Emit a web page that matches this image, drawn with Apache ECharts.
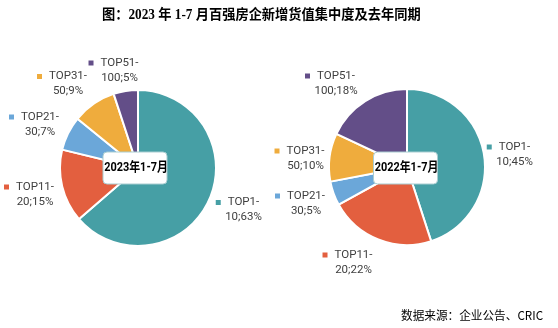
<!DOCTYPE html>
<html>
<head>
<meta charset="utf-8">
<script src="https://cdn.jsdelivr.net/npm/echarts@6/dist/echarts.min.js"></script>
<style>html,body{margin:0;padding:0;background:#fff}#c{width:558px;height:328px}</style>
</head>
<body>
<div id="c"></div>
<script>
var categories = ['TOP1-10', 'TOP11-20', 'TOP21-30', 'TOP31-50', 'TOP51-100'];
var values2023 = [63, 15, 7, 9, 5];
var values2022 = [45, 22, 5, 10, 18];
var periodLabels = ['2023年1-7月', '2022年1-7月'];
var titleText = '图：2023 年 1-7 月百强房企新增货值集中度及去年同期';
var sourceText = '数据来源：企业公告、CRIC';

// layout (not data)
var colors = ['#469fa5', '#e35f3f', '#6ba7d9', '#efac3d', '#634e88'];
var pies = [{cx: 138, cy: 168, r: 78}, {cx: 407, cy: 167, r: 78}];
var boxes = [{cx: 135, cy: 168}, {cx: 405.5, cy: 168}];
// centre of each label's text block, as placed in the reference
var labelAnchors = [
  [[243.5, 210], [35, 194.5], [40, 124.5], [68, 84], [119.5, 70.5]],
  [[514.5, 154.5], [353.5, 262.5], [306, 203.5], [305.5, 158.5], [336, 83.5]]
];

var rich = {t: {fontSize: 11.5, color: '#404040', fontFamily: 'Roboto', lineHeight: 15}, sp: {width: 12}, g: {width: 7}};
colors.forEach(function (c, i) {
  rich['m' + i] = {width: 5, height: 5, backgroundColor: c};
});

function fmt(p) {
  var parts = p.name.split('-');
  return '{m' + p.dataIndex + '|}{g|}{t|' + parts[0] + '-}\n{sp|}{t|' + parts[1] + ';' + p.value + '%}';
}

function build(vals) {
  return categories.map(function (n, i) { return {name: n, value: vals[i]}; });
}

var series = [];
var graphic = [];
[values2023, values2022].forEach(function (vals, k) {
  var p = pies[k];
  series.push({
    type: 'pie', center: [p.cx, p.cy], radius: [0, p.r], startAngle: 90, clockwise: true,
    silent: true, avoidLabelOverlap: false,
    label: {show: true, position: 'outside', formatter: fmt, rich: rich},
    labelLine: {show: false},
    labelLayout: function (params) {
      var a = labelAnchors[k][params.dataIndex];
      return {x: a[0] - 6, y: a[1], align: 'center', verticalAlign: 'middle'};
    },
    itemStyle: {borderColor: '#ffffff', borderWidth: 2},
    data: build(vals)
  });
  var b = boxes[k];
  graphic.push({
    type: 'rect', z: 100,
    shape: {x: b.cx - 32, y: b.cy - 16, width: 64, height: 32, r: 4},
    style: {fill: '#ffffff', stroke: '#a9cdd1', lineWidth: 1}
  });
  graphic.push({
    type: 'text', z: 101, x: b.cx + 1, y: b.cy, scaleX: 0.84,
    style: {text: periodLabels[k], fill: '#000', font: 'bold 13px Roboto, "Noto Sans CJK SC"', textAlign: 'center', textVerticalAlign: 'middle'}
  });
});

graphic.push({
  type: 'text', x: 102, y: 8, scaleX: 0.945,
  style: {text: titleText, fill: '#000', font: 'bold 14px "Liberation Serif", "Noto Sans CJK SC"', textAlign: 'left', textVerticalAlign: 'top'}
});
graphic.push({
  type: 'text', x: 401, y: 309, scaleX: 0.97,
  style: {text: sourceText, fill: '#000', font: '12px "Noto Sans CJK SC"', textAlign: 'left', textVerticalAlign: 'top'}
});

var chart = echarts.init(document.getElementById('c'), null, {renderer: 'canvas'});
chart.setOption({
  animation: false,
  color: colors,
  series: series,
  graphic: graphic
});
</script>
</body>
</html>
